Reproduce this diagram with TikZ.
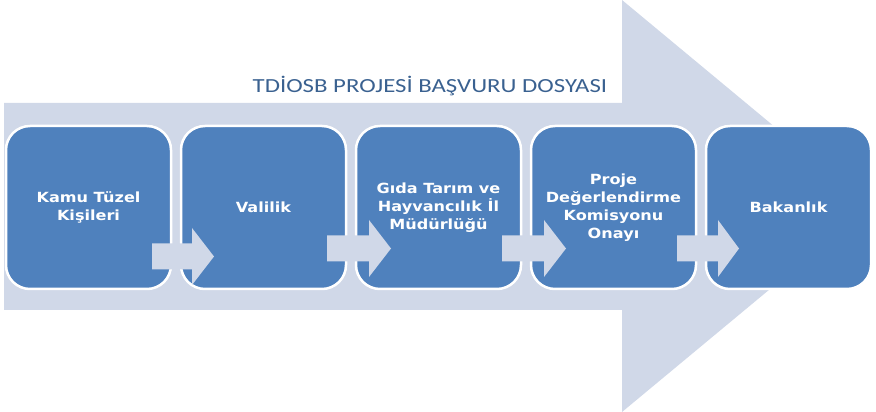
\documentclass[tikz,border=0pt]{standalone}
\usepackage{fontspec}
\usepackage{tikz}
\usetikzlibrary{positioning, calc}
\newfontfamily\stagefont[FakeStretch=1.15]{DejaVu Sans}
\newfontfamily\titlefont[FakeStretch=1.24]{Carlito}
\definecolor{stageblue}{HTML}{4F81BD}
\definecolor{flowgray}{HTML}{D0D8E8}
\definecolor{titleblue}{HTML}{3A6190}

\begin{document}
\begin{tikzpicture}[
  x=1pt, y=1pt,
  stage/.style={draw=white, line width=2.5pt, fill=stageblue, rounded corners=24pt,
    minimum width=165pt, minimum height=163pt, outer sep=0pt, align=center,
    text=white, font=\stagefont\bfseries\fontsize{14}{18}\selectfont},
  flowarrow/.style={fill=flowgray}
]
\useasboundingbox (0,0) rectangle (876,412);

% Background arrow
\fill[flowgray] (4,309) -- (622,309) -- (622,412) -- (870,206) -- (622,0)
  -- (622,102) -- (4,102) -- cycle;

% Title
\node[font=\titlefont\fontsize{20}{24}\selectfont, text=titleblue, anchor=base] (title)
  at (430,319) {TDİOSB PROJESİ BAŞVURU DOSYASI};

% Stages
\node[stage] (kamu) at (88.5,204.5) {Kamu Tüzel\\Kişileri};
\node[stage, right=10pt of kamu] (valilik) {Valilik};
\node[stage, right=10pt of valilik] (mudurluk) {Gıda Tarım ve\\Hayvancılık İl\\Müdürlüğü};
\node[stage, right=10pt of mudurluk] (komisyon) {Proje\\Değerlendirme\\Komisyonu\\Onayı};
\node[stage, right=10pt of komisyon] (bakanlik) {Bakanlık};

% Small arrows between stages
\fill[flowarrow] ($(kamu.east)+(-19,-36)$) -- ++(40,0) -- ++(0,15.5) -- ++(22,-28.5)
  -- ++(-22,-28.5) -- ++(0,15.5) -- ++(-40,0) -- cycle;
\fill[flowarrow] ($(valilik.east)+(-19,-28)$) -- ++(42,0) -- ++(0,15.5) -- ++(22,-28.5)
  -- ++(-22,-28.5) -- ++(0,15.5) -- ++(-42,0) -- cycle;
\fill[flowarrow] ($(mudurluk.east)+(-19,-28)$) -- ++(42,0) -- ++(0,15.5) -- ++(22,-28.5)
  -- ++(-22,-28.5) -- ++(0,15.5) -- ++(-42,0) -- cycle;
\fill[flowarrow] ($(komisyon.east)+(-19,-28)$) -- ++(41,0) -- ++(0,15.5) -- ++(21,-28.5)
  -- ++(-21,-28.5) -- ++(0,15.5) -- ++(-41,0) -- cycle;

\end{tikzpicture}
\end{document}
